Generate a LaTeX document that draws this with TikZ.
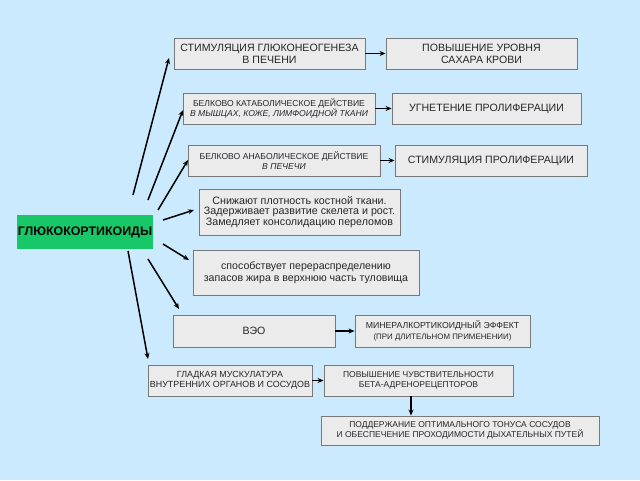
\documentclass[tikz,border=0pt]{standalone}
\usepackage{fontspec}
\setmainfont{Liberation Sans}
\usetikzlibrary{arrows.meta}
\definecolor{bg}{RGB}{204,234,253}
\definecolor{boxfill}{RGB}{235,235,235}
\definecolor{boxline}{RGB}{120,120,120}
\definecolor{gluc}{RGB}{24,200,104}
\tikzset{
  box/.style={draw=boxline, fill=boxfill, line width=0.9pt, inner sep=1pt, align=center, text=black!85},
  big/.style={font=\fontsize{10.6}{12}\selectfont},
  small/.style={font=\fontsize{8.6}{10}\selectfont},
  conn/.style={line width=1.5pt, -{Stealth[length=6pt,width=5pt]}},
}
\begin{document}
\begin{tikzpicture}[x=1pt,y=-1pt]
\fill[bg] (0,0) rectangle (640,480);
\useasboundingbox (0,0) rectangle (640,480);

\node[box,big,minimum width=191pt,minimum height=31pt] (b1) at (269.5,53.5) {СТИМУЛЯЦИЯ ГЛЮКОНЕОГЕНЕЗА\\В ПЕЧЕНИ};
\node[box,big,minimum width=191pt,minimum height=31pt] (b2) at (481.5,53.5) {ПОВЫШЕНИЕ УРОВНЯ\\САХАРА КРОВИ};
\node[box,small,minimum width=192pt,minimum height=31pt] (b3) at (279,108.5) {БЕЛКОВО КАТАБОЛИЧЕСКОЕ ДЕЙСТВИЕ\\\textit{В МЫШЦАХ, КОЖЕ, ЛИМФОИДНОЙ ТКАНИ}};
\node[box,big,minimum width=189pt,minimum height=31pt] (b4) at (486.5,108.5) {УГНЕТЕНИЕ ПРОЛИФЕРАЦИИ};
\node[box,small,minimum width=192pt,minimum height=31pt] (b5) at (284,160.5) {БЕЛКОВО АНАБОЛИЧЕСКОЕ ДЕЙСТВИЕ\\\textit{В ПЕЧЕЧИ}};
\node[box,big,minimum width=192pt,minimum height=31pt] (b6) at (491,160.5) {СТИМУЛЯЦИЯ ПРОЛИФЕРАЦИИ};
\node[box,font=\fontsize{10.7}{10.8}\selectfont,minimum width=201pt,minimum height=46pt] (b7) at (299.5,212) {Снижают плотность костной ткани.\\Задерживает развитие скелета и рост.\\Замедляет консолидацию переломов};
\node[fill=gluc,font=\bfseries\fontsize{12.4}{13}\selectfont,minimum width=136pt,minimum height=34pt,inner sep=0pt] (g) at (85,232) {ГЛЮКОКОРТИКОИДЫ};
\node[box,font=\fontsize{10.6}{12}\selectfont,minimum width=226pt,minimum height=45pt] (b9) at (306,272.5) {способствует перераспределению\\запасов жира в верхнюю часть туловища};
\node[box,big,minimum width=162pt,minimum height=32pt] (b10) at (254,331) {ВЭО};
\node[box,font=\fontsize{8.7}{10.5}\selectfont,minimum width=175pt,minimum height=32pt] (b11) at (442.5,331) {МИНЕРАЛКОРТИКОИДНЫЙ ЭФФЕКТ\\{\fontsize{7.9}{9}\selectfont (ПРИ ДЛИТЕЛЬНОМ ПРИМЕНЕНИИ)}};
\node[box,font=\fontsize{8.9}{10.2}\selectfont,minimum width=164pt,minimum height=31pt] (b12) at (230,380.5) {ГЛАДКАЯ МУСКУЛАТУРА\\ВНУТРЕННИХ ОРГАНОВ И СОСУДОВ};
\node[box,font=\fontsize{8.5}{10}\selectfont,minimum width=189pt,minimum height=31pt] (b13) at (418.5,380.5) {ПОВЫШЕНИЕ ЧУВСТВИТЕЛЬНОСТИ\\БЕТА-АДРЕНОРЕЦЕПТОРОВ};
\node[box,font=\fontsize{8.5}{10}\selectfont,minimum width=278pt,minimum height=29pt] (b14) at (460,430.5) {ПОДДЕРЖАНИЕ ОПТИМАЛЬНОГО ТОНУСА СОСУДОВ\\И ОБЕСПЕЧЕНИЕ ПРОХОДИМОСТИ ДЫХАТЕЛЬНЫХ ПУТЕЙ};

% free-floating connectors from the central node
\coordinate (s1) at (133,195); \coordinate (e1) at (169,58);
\coordinate (s2) at (148,200); \coordinate (e2) at (183,110);
\coordinate (s3) at (158,210); \coordinate (e3) at (188,160);
\coordinate (s4) at (163,220); \coordinate (e4) at (194,210);
\coordinate (s5) at (163,244); \coordinate (e5) at (189,260);
\coordinate (s6) at (148,259); \coordinate (e6) at (179,309);
\coordinate (s7) at (128,251); \coordinate (e7) at (148,359);
\foreach \i in {1,...,7} {\draw[conn] (s\i) -- (e\i);}

\draw[conn] (b1.east) -- (b2.west);
\draw[conn] (b3.east) -- (b4.west);
\draw[conn] (b5.east) -- (b6.west);
\draw[conn] (b10.east) -- (b11.west);
\draw[conn] (b12.east) -- (b13.west);
\draw[conn] (b13.south -| 411,0) -- (b14.north -| 411,0);
\end{tikzpicture}
\end{document}
